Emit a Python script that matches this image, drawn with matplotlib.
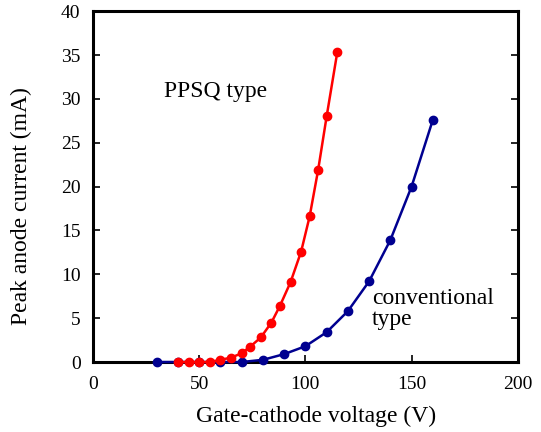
import matplotlib
matplotlib.use("Agg")
import matplotlib.pyplot as plt

# PPSQ type (red)
ppsq_v = [40, 45, 50, 55, 60, 65, 70, 74, 79, 84, 88, 93, 98, 102, 106, 110, 115]
ppsq_i = [0, 0, 0, 0, 0.25, 0.5, 1.0, 1.75, 2.8, 4.5, 6.4, 9.1, 12.6, 16.6, 21.9, 28.0, 35.3]

# conventional type (navy)
conv_v = [30, 40, 50, 60, 70, 80, 90, 100, 110, 120, 130, 140, 150, 160]
conv_i = [0, 0, 0, 0, 0, 0.25, 0.9, 1.8, 3.4, 5.8, 9.2, 13.9, 20.0, 27.6]

x_ticks = [0, 50, 100, 150, 200]
y_ticks = [0, 5, 10, 15, 20, 25, 30, 35, 40]

plt.rcParams["font.family"] = ["Liberation Serif", "DejaVu Serif"]

fig = plt.figure(figsize=(5.41, 4.32), dpi=100)
ax = fig.add_axes([0.172, 0.162, 0.785, 0.812])

ax.plot(conv_v, conv_i, color="#000090", lw=1.8, marker="o", ms=6,
        markeredgecolor="#000090", clip_on=False, zorder=3)
ax.plot(ppsq_v, ppsq_i, color="#ff0000", lw=1.8, marker="o", ms=6,
        markeredgecolor="#ff0000", clip_on=False, zorder=4)

ax.set_xlim(0, 200)
ax.set_ylim(0, 40)
ax.set_xticks(x_ticks)
ax.set_yticks(y_ticks)

ax.tick_params(direction="in", length=5, width=1.2, labelsize=14,
               right=True, top=False)
ax.tick_params(axis="x", pad=10)
ax.tick_params(axis="y", pad=9)
for s in ax.spines.values():
    s.set_linewidth(2.2)

ax.set_xlabel("Gate-cathode voltage (V)", fontsize=17)
ax.set_ylabel("Peak anode current (mA)", fontsize=17)
ax.xaxis.set_label_coords(0.526, -0.124)
ax.yaxis.set_label_coords(-0.143, 0.444)

ax.text(33.5, 30.9, "PPSQ type", fontsize=17, va="center", ha="left")
ax.text(131.5, 6.0, "conventional\ntype", fontsize=17, va="center", ha="left",
        linespacing=1.0)

fig.savefig("out.png", dpi=100)
